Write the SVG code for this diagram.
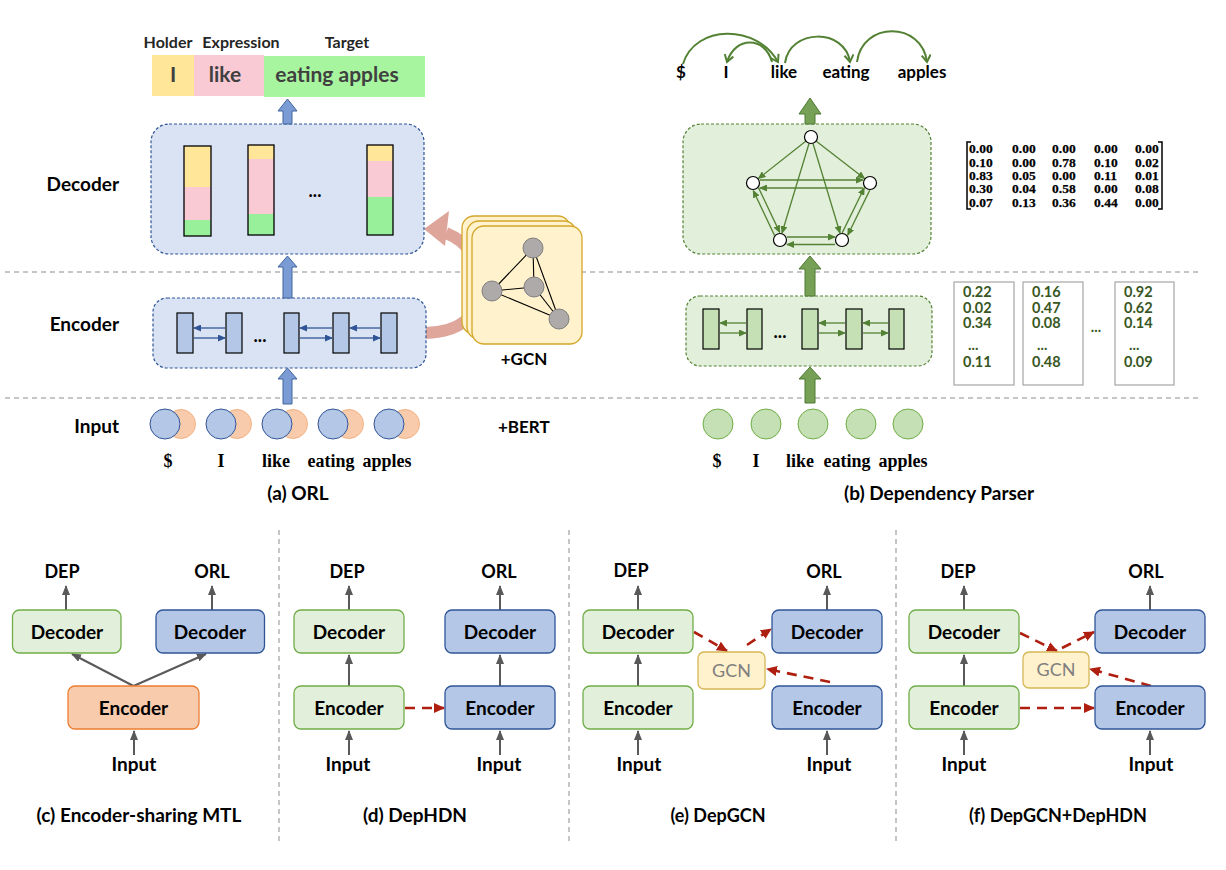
<svg xmlns="http://www.w3.org/2000/svg" width="1226" height="870" viewBox="0 0 1226 870">
<defs>
<style>
text{font-family:Lato,'Open Sans','Liberation Sans',sans-serif;font-weight:bold;fill:#000}
.c{text-anchor:middle}
.e{text-anchor:end}
.tm{font-family:'Liberation Serif',serif;font-weight:bold;font-size:18px;text-anchor:middle}
.mx{font-family:'Liberation Serif',serif;font-weight:bold;font-size:13.5px;stroke:#000;stroke-width:0.25}
.val{font-size:14.5px;fill:#385723}
.sep{stroke:#8c8c8c;stroke-width:1;stroke-dasharray:5 4;fill:none}
.bdash{fill:#dae3f3;stroke:#2f5597;stroke-width:1.2;stroke-dasharray:3 2}
.gdash{fill:#e2efda;stroke:#548235;stroke-width:1.2;stroke-dasharray:3 2}
.bcell{fill:#b4c7e7;stroke:#000;stroke-width:1.2}
.gcell{fill:#c5e0b4;stroke:#000;stroke-width:1.2}
.barr{stroke:#2f5597;stroke-width:1.3;marker-end:url(#mB)}
.garr{stroke:#548235;stroke-width:1.3;marker-end:url(#mG)}
.dep{fill:none;stroke:#548235;stroke-width:2;marker-end:url(#mD)}
.blk{fill:#7b9bd4;stroke:#41659f;stroke-width:1}
.gblk{fill:#76a056;stroke:#4e7a32;stroke-width:1}
.gn{fill:#fff;stroke:#000;stroke-width:1.2}
.gray{stroke:#595959;stroke-width:2;marker-end:url(#mK);fill:none}
.red{stroke:#ae1f10;stroke-width:2.6;stroke-dasharray:10 7;marker-end:url(#mR);fill:none}
.bxg{fill:#e2efda;stroke:#70ad47;stroke-width:1.3}
.bxb{fill:#b4c7e7;stroke:#2f5597;stroke-width:1.3}
.bxo{fill:#f8cbad;stroke:#ed7d31;stroke-width:1.3}
.bxy{fill:#fff2cc;stroke:#d6b656;stroke-width:1.3}
.gcnt{font-weight:normal;fill:#7f7f7f;font-size:18px;text-anchor:middle}
.t16{font-size:16px}
.t17{font-size:17px}
.t18{font-size:18px}
.t19{font-size:19px}
.bar{stroke:#000;stroke-width:1.3;fill:none}
.vb{fill:#fff;stroke:#a6a6a6;stroke-width:1.2}
</style>
<marker id="mB" markerWidth="8" markerHeight="7" refX="7" refY="3.5" orient="auto" markerUnits="userSpaceOnUse"><path d="M0,0 L8,3.5 L0,7z" fill="#2f5597"/></marker>
<marker id="mG" markerWidth="8" markerHeight="7" refX="7" refY="3.5" orient="auto" markerUnits="userSpaceOnUse"><path d="M0,0 L8,3.5 L0,7z" fill="#548235"/></marker>
<marker id="mD" markerWidth="12" markerHeight="12" refX="8" refY="5" orient="auto" markerUnits="userSpaceOnUse" viewBox="0 0 12 12"><path d="M1,0.5 L8,5 L1,9.5" fill="none" stroke="#548235" stroke-width="2"/></marker>
<marker id="mK" markerWidth="10" markerHeight="8" refX="9" refY="4" orient="auto" markerUnits="userSpaceOnUse"><path d="M0,0 L10,4 L0,8z" fill="#595959"/></marker>
<marker id="mR" markerWidth="11" markerHeight="10" refX="10" refY="5" orient="auto" markerUnits="userSpaceOnUse"><path d="M0,0 L11,5 L0,10z" fill="#ae1f10"/></marker>
</defs>
<rect width="1226" height="870" fill="#fff"/>

<g id="separators">
<line class="sep" x1="5" y1="272" x2="1200" y2="272"/>
<line class="sep" x1="5" y1="398" x2="1200" y2="398"/>
<line class="sep" x1="279" y1="530" x2="279" y2="845"/>
<line class="sep" x1="569" y1="530" x2="569" y2="845"/>
<line class="sep" x1="896" y1="530" x2="896" y2="845"/>
</g>

<!-- ============ (a) ORL ============ -->
<g id="a-labels">
<text class="e t19" x="119" y="191">Decoder</text>
<text class="e t19" x="119" y="331">Encoder</text>
<text class="e t19" x="119" y="433">Input</text>
<text class="c t19" x="298" y="500">(a) ORL</text>
<text class="t17" x="498" y="433">+BERT</text>
</g>

<g id="a-output">
<text class="c t16" x="168" y="48" style="fill:#262626">Holder</text>
<text class="c t16" x="241" y="48" style="fill:#262626">Expression</text>
<text class="c t16" x="347" y="48" style="fill:#262626">Target</text>
<rect x="152" y="55" width="42" height="41" fill="#ffe699"/>
<rect x="194" y="55" width="70" height="41" fill="#f9cad4"/>
<rect x="264" y="56" width="161" height="41" fill="#a8f5a0"/>
<text class="c" x="173" y="82" style="font-size:21px;fill:#404040">I</text>
<text class="c" x="225" y="82" style="font-size:21px;fill:#404040">like</text>
<text class="c" x="337" y="82" style="font-size:21px;fill:#404040">eating apples</text>
</g>

<g id="a-gcn-arrow" opacity="0.85">
<path d="M426,333 C458,332 478,318 478,290 C478,258 470,243 446,233" fill="none" stroke="#d9968a" stroke-width="12"/>
<polygon points="424,229 449,211 445,246" fill="#d9968a"/>
</g>

<g id="a-decoder">
<rect class="bdash" x="151" y="124" width="273" height="130" rx="18"/>
<rect x="184" y="146" width="27" height="41" fill="#ffe699"/>
<rect x="184" y="187" width="27" height="33" fill="#f9cad4"/>
<rect x="184" y="220" width="27" height="16" fill="#99f09a"/>
<rect class="bar" x="184" y="146" width="27" height="90"/>
<rect x="248" y="145" width="26" height="14" fill="#ffe699"/>
<rect x="248" y="159" width="26" height="55" fill="#f9cad4"/>
<rect x="248" y="214" width="26" height="21" fill="#99f09a"/>
<rect class="bar" x="248" y="145" width="26" height="90"/>
<rect x="367" y="145" width="26" height="16" fill="#ffe699"/>
<rect x="367" y="161" width="26" height="36" fill="#f9cad4"/>
<rect x="367" y="197" width="26" height="38" fill="#99f09a"/>
<rect class="bar" x="367" y="145" width="26" height="90"/>
<text class="c t18" x="315" y="197">...</text>
</g>

<g id="a-encoder">
<rect class="bdash" x="153" y="298" width="273" height="70" rx="14"/>
<rect class="bcell" x="177" y="313" width="16" height="40"/>
<rect class="bcell" x="226" y="313" width="16" height="40"/>
<rect class="bcell" x="284" y="313" width="15" height="40"/>
<rect class="bcell" x="333" y="313" width="16" height="40"/>
<rect class="bcell" x="381" y="313" width="16" height="40"/>
<text class="c t18" x="260" y="342">...</text>
<line class="barr" x1="225" y1="328" x2="194" y2="328"/>
<line class="barr" x1="194" y1="338" x2="225" y2="338"/>
<line class="barr" x1="332" y1="328" x2="300" y2="328"/>
<line class="barr" x1="300" y1="338" x2="332" y2="338"/>
<line class="barr" x1="380" y1="328" x2="350" y2="328"/>
<line class="barr" x1="350" y1="338" x2="380" y2="338"/>
</g>

<g id="a-gcn">
<rect class="bxy" x="462" y="216" width="108" height="118" rx="12" style="stroke:#d4a62a"/>
<rect class="bxy" x="467" y="221" width="109" height="118" rx="12" style="stroke:#d4a62a"/>
<rect class="bxy" x="472" y="226" width="110" height="118" rx="12" style="stroke:#d4a62a"/>
<g stroke="#000" stroke-width="1.1">
<line x1="533" y1="248" x2="492" y2="291"/>
<line x1="533" y1="248" x2="534" y2="287"/>
<line x1="533" y1="248" x2="559" y2="319"/>
<line x1="492" y1="291" x2="534" y2="287"/>
<line x1="492" y1="291" x2="559" y2="319"/>
<line x1="534" y1="287" x2="559" y2="319"/>
</g>
<g fill="#aeaaaa" stroke="#7f7f7f" stroke-width="1">
<circle cx="533" cy="248" r="10"/>
<circle cx="492" cy="291" r="10"/>
<circle cx="534" cy="287" r="10"/>
<circle cx="559" cy="319" r="10"/>
</g>
<text class="c t17" x="524" y="365">+GCN</text>
</g>

<g id="a-arrows">
<polygon class="blk" points="283,124 283,111 278,111 287.5,99 297,111 292,111 292,124"/>
<polygon class="blk" points="283,298 283,267 278,267 287.5,256 297,267 292,267 292,298"/>
<polygon class="blk" points="283,404 283,379 278,379 287.5,368 297,379 292,379 292,404"/>
</g>

<g id="a-input">
<g fill="#f8cbad" stroke="#f4b183" stroke-width="1">
<circle cx="181" cy="424" r="14.5"/>
<circle cx="237" cy="424" r="14.5"/>
<circle cx="293" cy="424" r="14.5"/>
<circle cx="349" cy="424" r="14.5"/>
<circle cx="405" cy="424" r="14.5"/>
</g>
<g fill="#b4c7e7" stroke="#2f5597" stroke-width="1">
<circle cx="165" cy="424" r="15"/>
<circle cx="221" cy="424" r="15"/>
<circle cx="277" cy="424" r="15"/>
<circle cx="333" cy="424" r="15"/>
<circle cx="389" cy="424" r="15"/>
</g>
<text class="tm" x="168" y="467">$</text>
<text class="tm" x="221" y="467">I</text>
<text class="tm" x="276" y="467">like</text>
<text class="tm" x="331" y="467">eating</text>
<text class="tm" x="387" y="467">apples</text>
</g>

<!-- ============ (b) Dependency Parser ============ -->
<g id="b-deptree">
<text class="c t17" x="681" y="78">$</text>
<text class="c t17" x="726" y="78">I</text>
<text class="c t17" x="784" y="78">like</text>
<text class="c t17" x="846" y="78">eating</text>
<text class="c t17" x="922" y="78">apples</text>
<path class="dep" d="M683,64 C695,24 757,24 778,62"/>
<path class="dep" d="M772,62 C765,36 735,36 727,62"/>
<path class="dep" d="M785,63 C790,28 845,28 850,62"/>
<path class="dep" d="M857,62 C862,21 922,21 927,62"/>
</g>

<g id="b-decoder">
<rect class="gdash" x="683" y="124" width="248" height="130" rx="18"/>
<line class="garr" x1="806" y1="141" x2="758.5" y2="178.5"/>
<line class="garr" x1="816" y1="141" x2="864.5" y2="178.5"/>
<line class="garr" x1="809" y1="143.5" x2="782" y2="233"/>
<line class="garr" x1="813" y1="143.5" x2="840" y2="233"/>
<line class="garr" x1="760" y1="180" x2="863" y2="180"/>
<line class="garr" x1="863" y1="188" x2="760" y2="188"/>
<line class="garr" x1="774.5" y1="235.4" x2="753.3" y2="190.6"/>
<line class="garr" x1="758.5" y1="187.6" x2="779.7" y2="232.4"/>
<line class="garr" x1="842.2" y1="232.9" x2="864.2" y2="188"/>
<line class="garr" x1="869.8" y1="190.1" x2="847.8" y2="235"/>
<line class="garr" x1="787" y1="237" x2="835" y2="237"/>
<line class="garr" x1="835" y1="244.5" x2="787" y2="244.5"/>
<circle class="gn" cx="811" cy="137" r="6.5"/>
<circle class="gn" cx="753" cy="183" r="6.5"/>
<circle class="gn" cx="870" cy="183" r="6.5"/>
<circle class="gn" cx="780" cy="240" r="6.5"/>
<circle class="gn" cx="842" cy="240" r="6.5"/>
</g>

<g id="b-matrix">
<path d="M971,142 L967,142 L967,209 L971,209" fill="none" stroke="#000" stroke-width="1.5"/>
<path d="M1158,142 L1162,142 L1162,209 L1158,209" fill="none" stroke="#000" stroke-width="1.5"/>
<text class="mx" y="153"><tspan x="969">0.00</tspan><tspan x="1012">0.00</tspan><tspan x="1052">0.00</tspan><tspan x="1094">0.00</tspan><tspan x="1135">0.00</tspan></text>
<text class="mx" y="166.5"><tspan x="969">0.10</tspan><tspan x="1012">0.00</tspan><tspan x="1052">0.78</tspan><tspan x="1094">0.10</tspan><tspan x="1135">0.02</tspan></text>
<text class="mx" y="180"><tspan x="969">0.83</tspan><tspan x="1012">0.05</tspan><tspan x="1052">0.00</tspan><tspan x="1094">0.11</tspan><tspan x="1135">0.01</tspan></text>
<text class="mx" y="193.3"><tspan x="969">0.30</tspan><tspan x="1012">0.04</tspan><tspan x="1052">0.58</tspan><tspan x="1094">0.00</tspan><tspan x="1135">0.08</tspan></text>
<text class="mx" y="206.7"><tspan x="969">0.07</tspan><tspan x="1012">0.13</tspan><tspan x="1052">0.36</tspan><tspan x="1094">0.44</tspan><tspan x="1135">0.00</tspan></text>
</g>

<g id="b-encoder">
<rect class="gdash" x="686" y="296" width="246" height="70" rx="14"/>
<rect class="gcell" x="703" y="309" width="16" height="40"/>
<rect class="gcell" x="747" y="309" width="15" height="40"/>
<rect class="gcell" x="802" y="309" width="16" height="40"/>
<rect class="gcell" x="846" y="309" width="16" height="40"/>
<rect class="gcell" x="889" y="309" width="15" height="40"/>
<text class="c t18" x="780" y="338">...</text>
<line class="garr" x1="746" y1="323" x2="720" y2="323"/>
<line class="garr" x1="720" y1="333" x2="746" y2="333"/>
<line class="garr" x1="845" y1="323" x2="819" y2="323"/>
<line class="garr" x1="819" y1="333" x2="845" y2="333"/>
<line class="garr" x1="888" y1="323" x2="863" y2="323"/>
<line class="garr" x1="863" y1="333" x2="888" y2="333"/>
</g>

<g id="b-vectors">
<rect class="vb" x="954" y="282" width="60" height="103"/>
<rect class="vb" x="1023" y="282" width="60" height="103"/>
<rect class="vb" x="1115" y="282" width="59" height="103"/>
<text class="val"><tspan x="963" y="297">0.22</tspan><tspan x="963" y="312.5">0.02</tspan><tspan x="963" y="328">0.34</tspan><tspan x="968" y="350">...</tspan><tspan x="963" y="367">0.11</tspan></text>
<text class="val"><tspan x="1032" y="297">0.16</tspan><tspan x="1032" y="312.5">0.47</tspan><tspan x="1032" y="328">0.08</tspan><tspan x="1037" y="350">...</tspan><tspan x="1032" y="367">0.48</tspan></text>
<text class="val"><tspan x="1124" y="297">0.92</tspan><tspan x="1124" y="312.5">0.62</tspan><tspan x="1124" y="328">0.14</tspan><tspan x="1129" y="350">...</tspan><tspan x="1124" y="367">0.09</tspan></text>
<text class="val c" x="1096" y="332">...</text>
</g>

<g id="b-arrows">
<polygon class="gblk" points="805,124 805,114 799,114 810,98 821,114 815,114 815,124"/>
<polygon class="gblk" points="805,296 805,269 799,269 810,256 821,269 815,269 815,296"/>
<polygon class="gblk" points="805,403 805,379 799,379 810,367 821,379 815,379 815,403"/>
</g>

<g id="b-input">
<g fill="#c5e0b4" stroke="#70ad47" stroke-width="1">
<circle cx="718" cy="424" r="15"/>
<circle cx="766" cy="424" r="15"/>
<circle cx="813" cy="424" r="15"/>
<circle cx="861" cy="424" r="15"/>
<circle cx="908" cy="424" r="15"/>
</g>
<text class="tm" x="717" y="467">$</text>
<text class="tm" x="756" y="467">I</text>
<text class="tm" x="800" y="467">like</text>
<text class="tm" x="847" y="467">eating</text>
<text class="tm" x="903" y="467">apples</text>
<text class="c t19" x="939" y="500">(b) Dependency Parser</text>
</g>

<!-- ============ bottom panels ============ -->
<g id="connectors">
<line class="gray" x1="66" y1="610" x2="66" y2="586"/>
<line class="gray" x1="212" y1="610" x2="212" y2="586"/>
<line class="gray" x1="133.5" y1="686" x2="72" y2="654"/>
<line class="gray" x1="133.5" y1="686" x2="206" y2="654"/>
<line class="gray" x1="134" y1="755" x2="134" y2="731"/>
<line class="gray" x1="349" y1="610" x2="349" y2="586"/>
<line class="gray" x1="500" y1="610" x2="500" y2="586"/>
<line class="gray" x1="349" y1="686" x2="349" y2="655"/>
<line class="gray" x1="500" y1="686" x2="500" y2="655"/>
<line class="gray" x1="349" y1="755" x2="349" y2="731"/>
<line class="gray" x1="500" y1="755" x2="500" y2="731"/>
<line class="red" x1="405" y1="708" x2="444" y2="708"/>
<line class="gray" x1="638" y1="610" x2="638" y2="586"/>
<line class="gray" x1="827" y1="610" x2="827" y2="586"/>
<line class="gray" x1="638" y1="686" x2="638" y2="655"/>
<line class="gray" x1="638" y1="755" x2="638" y2="731"/>
<line class="gray" x1="827" y1="755" x2="827" y2="731"/>
<line class="red" x1="694" y1="632" x2="727" y2="651"/>
<line class="red" x1="747" y1="645" x2="771" y2="629"/>
<line class="red" x1="830" y1="682" x2="767" y2="669"/>
<line class="gray" x1="964" y1="610" x2="964" y2="586"/>
<line class="gray" x1="1150" y1="610" x2="1150" y2="586"/>
<line class="gray" x1="964" y1="686" x2="964" y2="655"/>
<line class="gray" x1="964" y1="755" x2="964" y2="731"/>
<line class="gray" x1="1150" y1="755" x2="1150" y2="731"/>
<line class="red" x1="1020" y1="633" x2="1057" y2="651"/>
<line class="red" x1="1062" y1="648" x2="1094" y2="632"/>
<line class="red" x1="1151" y1="686" x2="1090" y2="669"/>
<line class="red" x1="1020" y1="708" x2="1094" y2="708"/>
</g>

<g id="c-panel">
<text class="c t18" x="62" y="578">DEP</text>
<text class="c t18" x="212" y="578">ORL</text>
<rect class="bxg" x="12.5" y="610" width="108.5" height="43" rx="7"/>
<text class="c t19" x="67" y="639">Decoder</text>
<rect class="bxb" x="156" y="610" width="108.5" height="43" rx="7"/>
<text class="c t19" x="210" y="639">Decoder</text>
<rect class="bxo" x="68" y="686" width="131" height="43" rx="7"/>
<text class="c t19" x="133.5" y="715">Encoder</text>
<text class="c t19" x="134" y="771">Input</text>
<text class="c t19" x="139" y="822">(c) Encoder-sharing MTL</text>
</g>

<g id="d-panel">
<text class="c t18" x="347" y="578">DEP</text>
<text class="c t18" x="499" y="578">ORL</text>
<rect class="bxg" x="294" y="610" width="110" height="43" rx="7"/>
<text class="c t19" x="349" y="639">Decoder</text>
<rect class="bxb" x="445" y="610" width="110" height="43" rx="7"/>
<text class="c t19" x="500" y="639">Decoder</text>
<rect class="bxg" x="294" y="686" width="110" height="43" rx="7"/>
<text class="c t19" x="349" y="715">Encoder</text>
<rect class="bxb" x="445" y="686" width="110" height="43" rx="7"/>
<text class="c t19" x="500" y="715">Encoder</text>
<text class="c t19" x="348" y="771">Input</text>
<text class="c t19" x="499" y="771">Input</text>
<text class="c t19" x="415" y="822">(d) DepHDN</text>
</g>

<g id="e-panel">
<text class="c t18" x="631" y="577">DEP</text>
<text class="c t18" x="824" y="578">ORL</text>
<rect class="bxg" x="583" y="610" width="110" height="43" rx="7"/>
<text class="c t19" x="638" y="639">Decoder</text>
<rect class="bxb" x="772" y="610" width="110" height="43" rx="7"/>
<text class="c t19" x="827" y="639">Decoder</text>
<rect class="bxy" x="698" y="652" width="67" height="37" rx="6"/>
<text class="gcnt" x="731.5" y="677">GCN</text>
<rect class="bxg" x="583" y="686" width="110" height="43" rx="7"/>
<text class="c t19" x="638" y="715">Encoder</text>
<rect class="bxb" x="772" y="686" width="110" height="43" rx="7"/>
<text class="c t19" x="827" y="715">Encoder</text>
<text class="c t19" x="639" y="771">Input</text>
<text class="c t19" x="829" y="771">Input</text>
<text class="c t18" x="718" y="822">(e) DepGCN</text>
</g>

<g id="f-panel">
<text class="c t18" x="958" y="578">DEP</text>
<text class="c t18" x="1146" y="578">ORL</text>
<rect class="bxg" x="909" y="610" width="110" height="43" rx="7"/>
<text class="c t19" x="964" y="639">Decoder</text>
<rect class="bxb" x="1095" y="610" width="110" height="43" rx="7"/>
<text class="c t19" x="1150" y="639">Decoder</text>
<rect class="bxy" x="1023" y="652" width="66" height="36" rx="6"/>
<text class="gcnt" x="1056" y="676">GCN</text>
<rect class="bxg" x="909" y="686" width="110" height="43" rx="7"/>
<text class="c t19" x="964" y="715">Encoder</text>
<rect class="bxb" x="1095" y="686" width="110" height="43" rx="7"/>
<text class="c t19" x="1150" y="715">Encoder</text>
<text class="c t19" x="964" y="771">Input</text>
<text class="c t19" x="1151" y="771">Input</text>
<text class="c t18" x="1058" y="822">(f) DepGCN+DepHDN</text>
</g>
</svg>
